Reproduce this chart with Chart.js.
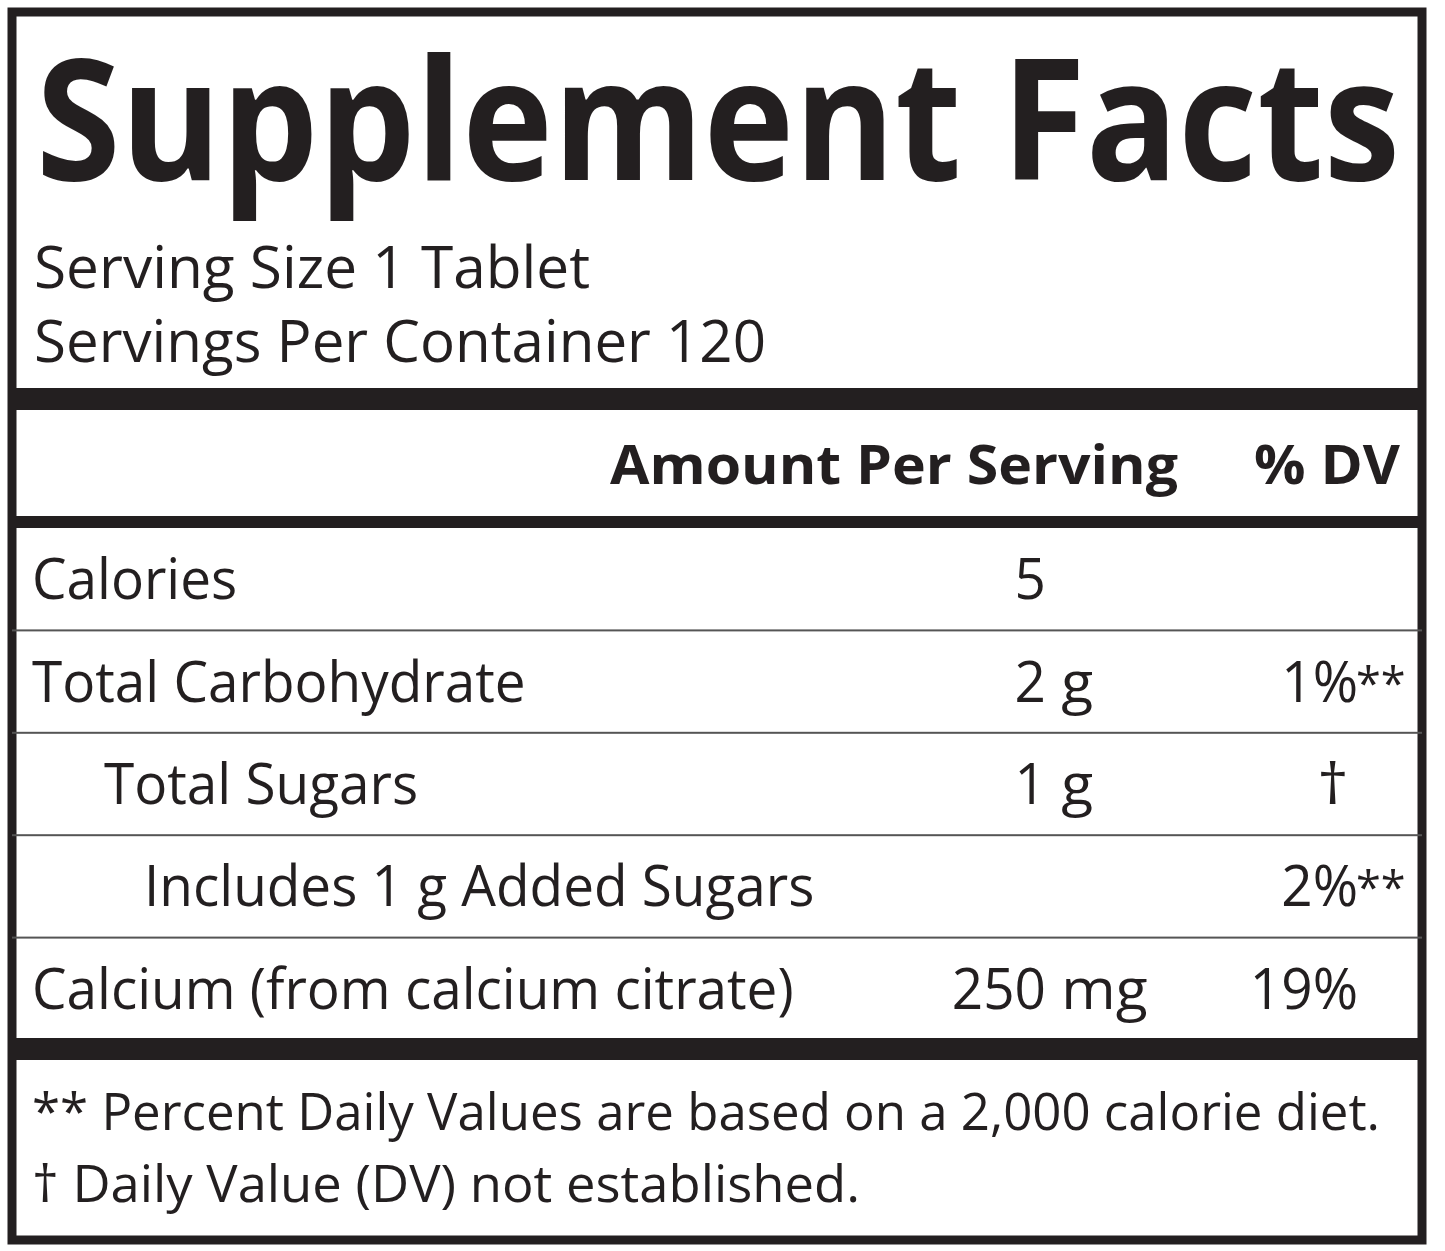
<!DOCTYPE html>
<html><head><meta charset="utf-8">
<script src="https://cdn.jsdelivr.net/npm/chart.js@4/dist/chart.umd.min.js"></script>
<style>html,body{margin:0;padding:0;background:#fff}#wrap{width:1445px;height:1251px}</style>
</head><body><div id="wrap"><canvas id="facts"></canvas></div>
<script>
// label contents
const title = 'Supplement Facts';
const servingLines = ['Serving Size 1 Tablet', 'Servings Per Container 120'];
const headers = ['Amount Per Serving', '% DV'];
const nutrients = ['Calories', 'Total Carbohydrate', 'Total Sugars', 'Includes 1 g Added Sugars', 'Calcium (from calcium citrate)'];
const indents = [0, 0, 1, 2, 0];
const amountNum = ['5', '2', '1', '', '250'];
const amountUnit = ['', ' g', ' g', '', ' mg'];
const dvValues = ['', '1%', '†', '2%', '19%'];
const dvMarks = ['', '**', '', '**', ''];
const footnotes = ['** Percent Daily Values are based on a 2,000 calorie diet.', '† Daily Value (DV) not established.'];

const INK = '#231f20';
const FONT = '"Open Sans", "Noto Sans", sans-serif';

function fitText(ctx, txt, x, y, w) {
    let m = ctx.measureText(txt).width;
    ctx.save();
    ctx.translate(x, y);
    ctx.scale(w / m, 1);
    ctx.fillText(txt, 0, 0);
    ctx.restore();
}
function squeeze(ctx, txt, x, y, k, align) {
    let m = ctx.measureText(txt).width * k;
    let sx = align === 'right' ? x - m : (align === 'center' ? x - m / 2 : x);
    ctx.save();
    ctx.translate(sx, y);
    ctx.scale(k, 1);
    ctx.textAlign = 'left';
    ctx.fillText(txt, 0, 0);
    ctx.restore();
    return m;
}

const labelPlugin = {
    id: 'labelPlugin',
    afterDraw(chart) {
        const ctx = chart.ctx;
        const ys = chart.scales.y;
        ctx.save();
        ctx.fillStyle = INK;
        ctx.strokeStyle = INK;
        ctx.textBaseline = 'alphabetic';
        // frame
        ctx.lineWidth = 9;
        ctx.strokeRect(12, 12, 1410, 1228);
        // title
        ctx.font = 'bold 168px ' + FONT;
        fitText(ctx, title, 36, 180, 1364);
        ctx.font = '58px ' + FONT;
        fitText(ctx, servingLines[0], 34, 288, 556);
        fitText(ctx, servingLines[1], 34, 362, 732);
        // thick bars
        ctx.fillRect(12, 388, 1410, 22);
        ctx.fillRect(12, 516, 1410, 12);
        ctx.fillRect(12, 1038, 1410, 22);
        // headers
        ctx.font = 'bold 54px ' + FONT;
        squeeze(ctx, headers[0], 1178, 484, 1.06, 'right');
        squeeze(ctx, headers[1], 1400, 484, 1.06, 'right');
        // rows
        ctx.font = '56px ' + FONT;
        nutrients.forEach((n, i) => {
            const yc = ys.getPixelForValue(i);
            const base = yc + 20;
            squeeze(ctx, n, 32 + [0, 72, 112][indents[i]], base, 0.98, 'left');
            if (amountNum[i]) {
                squeeze(ctx, amountNum[i], 1046, base, 0.98, 'right');
                squeeze(ctx, amountUnit[i], 1046, base, 1.05, 'left');
            }
            if (dvValues[i] === '†') {
                squeeze(ctx, dvValues[i], 1333, base, 1.1, 'center');
            } else if (dvValues[i]) {
                squeeze(ctx, dvValues[i], 1358, base, 0.98, 'right');
                ctx.font = '46px ' + FONT;
                squeeze(ctx, dvMarks[i], 1356, base - 2, 0.98, 'left');
                ctx.font = '56px ' + FONT;
            }
            if (i < nutrients.length - 1) {
                const ysep = (yc + ys.getPixelForValue(i + 1)) / 2;
                ctx.fillStyle = '#555';
                ctx.fillRect(12, ysep - 1, 1410, 2);
                ctx.fillStyle = INK;
            }
        });
        // footnotes
        ctx.font = '52px ' + FONT;
        fitText(ctx, footnotes[0], 32, 1130, 1348);
        fitText(ctx, footnotes[1], 32, 1202, 828);
        ctx.restore();
    }
};

new Chart(document.getElementById('facts'), {
    type: 'bar',
    data: {
        labels: nutrients,
        datasets: [{ data: nutrients.map(() => 0), backgroundColor: 'rgba(0,0,0,0)' }]
    },
    options: {
        responsive: true,
        maintainAspectRatio: false,
        animation: false,
        indexAxis: 'y',
        layout: { padding: { top: 528, bottom: 1251 - 1040, left: 0, right: 0 } },
        plugins: { legend: { display: false }, tooltip: { enabled: false } },
        scales: {
            x: { display: false, min: 0, max: 1 },
            y: { display: false }
        }
    },
    plugins: [labelPlugin]
});
</script>
</body></html>
